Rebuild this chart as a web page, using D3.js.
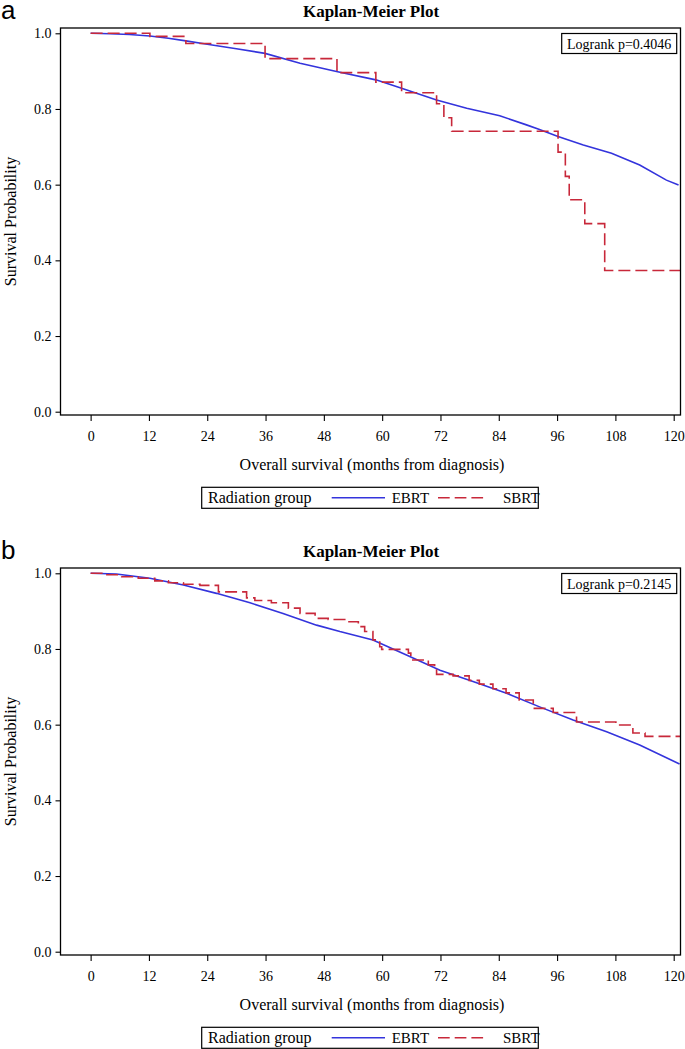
<!DOCTYPE html>
<html>
<head>
<meta charset="utf-8">
<script src="https://cdn.jsdelivr.net/npm/d3@7"></script>
<style>
  html, body { margin: 0; padding: 0; background: #fff; }
  svg { display: block; }
  text { font-family: "Liberation Serif", "Times New Roman", serif; fill: #000; }
</style>
</head>
<body>
<svg id="chart" width="685" height="1049"></svg>
<script>
// ---------------- DATA ----------------
const xTicks = [0, 12, 24, 36, 48, 60, 72, 84, 96, 108, 120];
const yTicks = [0.0, 0.2, 0.4, 0.6, 0.8, 1.0];
const panelLetters = ["a", "b"];
const chartTitle = "Kaplan-Meier Plot";
const xTitle = "Overall survival (months from diagnosis)";
const yTitle = "Survival Probability";
const legendTitle = "Radiation group";
const groups = ["EBRT", "SBRT"];
const logrankLabels = ["Logrank p=0.4046", "Logrank p=0.2145"];

// Panel a – EBRT (months, survival)
const ebrtA_t = [0, 4, 8, 12.2, 16, 19.6, 24, 30, 35.9, 43.1, 50.6, 58.7, 64, 71.2, 77.4, 84.2, 89.7, 92.1, 96.2, 101.4, 107.2, 113, 118.5, 121];
const ebrtA_s = [1, 0.999, 0.997, 0.993, 0.987, 0.980, 0.971, 0.959, 0.947, 0.921, 0.899, 0.877, 0.855, 0.824, 0.802, 0.782, 0.758, 0.747, 0.727, 0.705, 0.683, 0.652, 0.612, 0.599];
// Panel a – SBRT step function (time of step, survival after step)
const sbrtA_t = [0, 12.2, 19.6, 35.9, 50.7, 58.7, 64.0, 71.2, 72.7, 74.3, 96.2, 97.7, 98.5, 101.7, 105.8, 121.4];
const sbrtA_s = [1, 0.992, 0.973, 0.933, 0.896, 0.871, 0.843, 0.814, 0.777, 0.741, 0.686, 0.622, 0.560, 0.497, 0.373, 0.373];

// Panel b – EBRT
const ebrtB_t = [0, 5.3, 12.2, 19.1, 25.9, 32.8, 39.6, 46.5, 51.3, 58.1, 65.0, 71.9, 78.7, 85.6, 92.4, 99.3, 106.2, 113.0, 121.2];
const ebrtB_s = [1, 0.998, 0.987, 0.969, 0.947, 0.922, 0.894, 0.863, 0.846, 0.824, 0.784, 0.744, 0.714, 0.683, 0.647, 0.612, 0.581, 0.546, 0.496];
// Panel b – SBRT step function
const sbrtB_t = [0, 2.6, 6.4, 9.8, 13.2, 16.0, 19.1, 22.5, 26.3, 32.1, 33.8, 37.2, 40.7, 43.1, 46.2, 48.9, 52.3, 55.1, 56.4, 58.1, 59.5, 59.9, 65.4, 65.9, 69.5, 70.8, 71.2, 74.6, 77.9, 80.0, 82.8, 85.5, 88.2, 91.1, 95.2, 100.0, 108.1, 111.6, 114.1, 121.4];
const sbrtB_s = [1, 0.996, 0.991, 0.987, 0.980, 0.975, 0.971, 0.968, 0.951, 0.935, 0.928, 0.922, 0.908, 0.894, 0.881, 0.878, 0.872, 0.859, 0.846, 0.824, 0.806, 0.799, 0.789, 0.771, 0.758, 0.744, 0.733, 0.729, 0.717, 0.707, 0.695, 0.684, 0.665, 0.643, 0.632, 0.607, 0.599, 0.578, 0.569, 0.569];

const zip = (t, s) => t.map((d, i) => [d, s[i]]);
const panels = [
  { letter: panelLetters[0], oy: 0,   p: logrankLabels[0], ebrt: zip(ebrtA_t, ebrtA_s), sbrt: zip(sbrtA_t, sbrtA_s) },
  { letter: panelLetters[1], oy: 540, p: logrankLabels[1], ebrt: zip(ebrtB_t, ebrtB_s), sbrt: zip(sbrtB_t, sbrtB_s) }
];

const BLUE = "#3434dc";
const RED = "#c8283a";

// ---------------- DRAW ----------------
const svg = d3.select("#chart");
const L = 60.5, R = 680.5, T = 28, B = 415;

panels.forEach((pn, idx) => {
  const g = svg.append("g").attr("transform", `translate(0,${pn.oy})`);
  const x = d3.scaleLinear().domain([-6.2, 121.4]).range([L, R]);
  const y = d3.scaleLinear().domain([0, 1]).range([411.7, 33.3]);

  // panel letter
  g.append("text").attr("x", 1).attr("y", 19)
    .style("font-family", "'Liberation Sans', Arial, sans-serif")
    .style("font-size", "26px").text(pn.letter);

  // title
  g.append("text").attr("x", 371).attr("y", 17).attr("text-anchor", "middle")
    .style("font-size", "17px").style("font-weight", "bold").text(chartTitle);

  // clip
  const cid = "clip" + idx;
  g.append("clipPath").attr("id", cid).append("rect")
    .attr("x", L).attr("y", T).attr("width", R - L).attr("height", B - T);

  // axes
  const ya = g.append("g").attr("transform", `translate(${L},0)`)
    .call(d3.axisLeft(y).tickValues(yTicks).tickFormat(d3.format(".1f")).tickSize(5).tickSizeOuter(0));
  ya.select(".domain").remove();
  ya.selectAll("text").style("font-size", "14px").style("font-family", "'Liberation Serif', serif").attr("x", -9);
  ya.selectAll("line").attr("stroke", "#000").attr("stroke-width", 1.1);

  const xa = g.append("g").attr("transform", `translate(0,${B})`)
    .call(d3.axisBottom(x).tickValues(xTicks).tickFormat(d3.format("d")).tickSize(6).tickSizeOuter(0));
  xa.select(".domain").remove();
  xa.selectAll("text").style("font-size", "14px").style("font-family", "'Liberation Serif', serif").attr("y", 16);
  xa.selectAll("line").attr("stroke", "#000").attr("stroke-width", 1.1);

  // axis titles
  g.append("text").attr("x", 372).attr("y", 470).attr("text-anchor", "middle")
    .style("font-size", "16px").text(xTitle);
  g.append("text").attr("transform", `translate(16,${(T + B) / 2}) rotate(-90)`)
    .attr("text-anchor", "middle").style("font-size", "16px").text(yTitle);

  // curves
  const plot = g.append("g").attr("clip-path", `url(#${cid})`);
  plot.append("path").datum(pn.ebrt)
    .attr("fill", "none").attr("stroke", BLUE).attr("stroke-width", 1.6)
    .attr("d", d3.line().x(d => x(d[0])).y(d => y(d[1])).curve(d3.curveLinear));
  plot.append("path").datum(pn.sbrt)
    .attr("fill", "none").attr("stroke", RED).attr("stroke-width", 1.6)
    .attr("stroke-dasharray", "12,5")
    .attr("d", d3.line().x(d => x(d[0])).y(d => y(d[1])).curve(d3.curveStepAfter));

  // frame
  g.append("rect").attr("x", L).attr("y", T).attr("width", R - L).attr("height", B - T)
    .attr("fill", "none").attr("stroke", "#000").attr("stroke-width", 1.3);

  // logrank box
  g.append("rect").attr("x", 561.7).attr("y", 33.5).attr("width", 115).attr("height", 20)
    .attr("fill", "#fff").attr("stroke", "#000").attr("stroke-width", 1.2);
  g.append("text").attr("x", 619.2).attr("y", 48.5).attr("text-anchor", "middle")
    .style("font-size", "14px").text(pn.p);

  // legend
  g.append("rect").attr("x", 201.7).attr("y", 487.3).attr("width", 336.6).attr("height", 21)
    .attr("fill", "#fff").attr("stroke", "#000").attr("stroke-width", 1.2);
  g.append("text").attr("x", 208).attr("y", 503).style("font-size", "16px").text(legendTitle);
  g.append("line").attr("x1", 331.7).attr("x2", 385).attr("y1", 497.7).attr("y2", 497.7)
    .attr("stroke", BLUE).attr("stroke-width", 1.6);
  g.append("text").attr("x", 391.7).attr("y", 503).style("font-size", "15px").text(groups[0]);
  g.append("line").attr("x1", 438).attr("x2", 487).attr("y1", 497.7).attr("y2", 497.7)
    .attr("stroke", RED).attr("stroke-width", 1.6).attr("stroke-dasharray", "11.7,5");
  g.append("text").attr("x", 503).attr("y", 503).style("font-size", "15px").text(groups[1]);
});
</script>
</body>
</html>
